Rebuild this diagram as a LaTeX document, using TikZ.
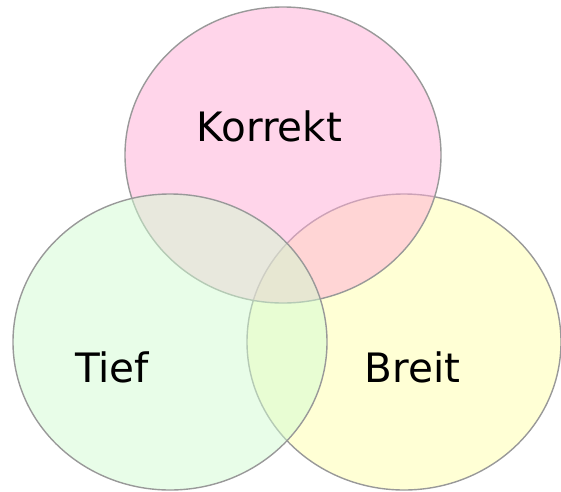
\documentclass[tikz,border=0pt]{standalone}
\usepackage{fontspec}
\setmainfont{DejaVu Sans}
\usepackage{tikz}

\tikzset{
	set/.style={draw=black!40, line width=1.4pt, fill opacity=0.5},
	setlabel/.style={anchor=base, inner sep=0pt, font=\fontsize{40.5}{48}\selectfont}
}

\begin{document}
\begin{tikzpicture}[x=1pt, y=-1pt]
		\useasboundingbox (0, 0) rectangle (561, 491);
		% yellow first, then pink, then green on top
		\filldraw[set, fill={rgb,255:red,255;green,255;blue,171}] (404, 342) ellipse (157pt and 148pt);
		\filldraw[set, fill={rgb,255:red,255;green,171;blue,213}] (283, 155) ellipse (158pt and 148pt);
		\filldraw[set, fill={rgb,255:red,209;green,251;blue,209}] (170, 342) ellipse (157pt and 148pt);
		\node[setlabel] (korrekt) at (269.5, 141) {Korrekt};
		\node[setlabel] (tief) at (112, 382) {Tief};
		\node[setlabel] (breit) at (412.5, 382) {Breit};
	\end{tikzpicture}
\end{document}
